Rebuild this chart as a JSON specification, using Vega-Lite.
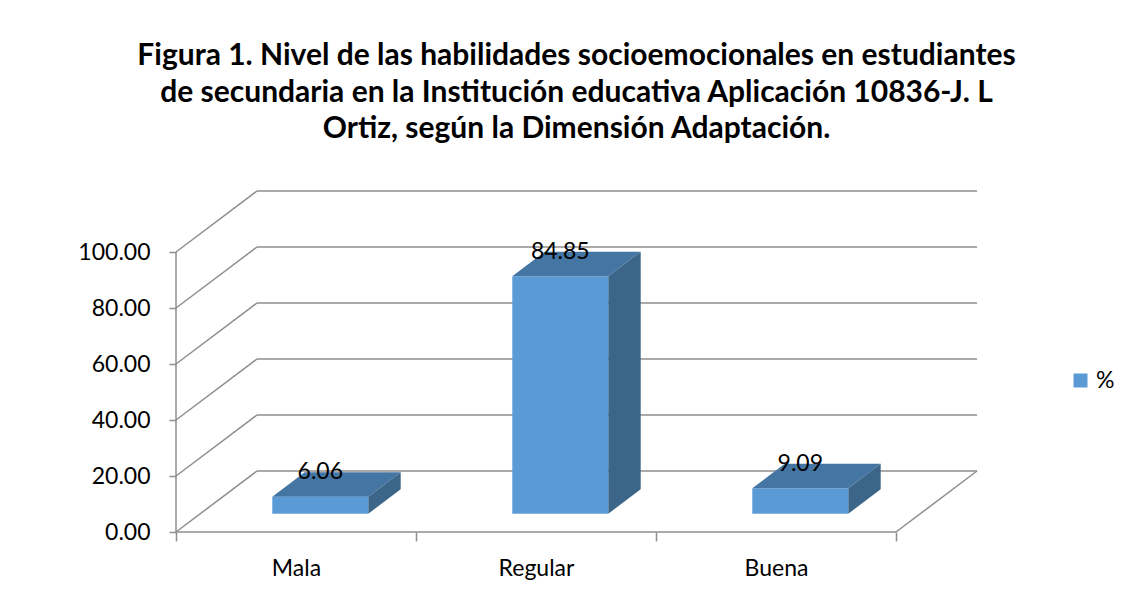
{
  "$schema": "https://vega.github.io/schema/vega-lite/v6.json",
  "width": 801,
  "height": 341,
  "autosize": {"type": "none"},
  "padding": {"left": 176, "top": 191, "right": 153, "bottom": 64},
  "background": "white",
  "config": {
    "view": {"stroke": null},
    "font": "Lato",
    "axis": {"labelFont": "Lato", "labelFontSize": 23, "labelColor": "#000000", "tickWidth": 1.5, "grid": false, "domain": false, "labelOverlap": false}
  },
  "title": {
    "text": ["Figura 1. Nivel de las habilidades socioemocionales en estudiantes", "de secundaria en la Institución educativa Aplicación 10836-J. L", "Ortiz, según la Dimensión Adaptación."],
    "font": "Lato", "fontSize": 30, "fontWeight": "bold", "color": "#000000", "anchor": "middle", "lineHeight": 36.5, "offset": 46
  },
  "datasets": {
    "bars": [{"cat": "Mala", "v": 6.06}, {"cat": "Regular", "v": 84.85}, {"cat": "Buena", "v": 9.09}],
    "ticks": [{"t": 0}, {"t": 20}, {"t": 40}, {"t": 60}, {"t": 80}, {"t": 100}]
  },
  "layer": [
    {
      "data": {"name": "ticks"},
      "transform": [{"calculate": "datum.t + 21.79", "as": "yb"}],
      "mark": {"type": "rule", "color": "#8E8E8E", "strokeWidth": 1.5},
      "encoding": {
        "x": {"datum": 0.3375, "type": "quantitative", "scale": {"domain": [0, 3.3375], "nice": false, "zero": false}},
        "x2": {"datum": 3.3375},
        "y": {"field": "yb", "type": "quantitative", "scale": {"domain": [0, 121.79], "nice": false}}
      }
    },
    {
      "data": {"name": "ticks"},
      "transform": [{"calculate": "datum.t + 21.79", "as": "yb"}],
      "mark": {"type": "rule", "color": "#8E8E8E", "strokeWidth": 1.5},
      "encoding": {
        "x": {"datum": 0, "type": "quantitative", "scale": {"domain": [0, 3.3375], "nice": false, "zero": false}},
        "x2": {"datum": 0.3375},
        "y": {"field": "t", "type": "quantitative", "scale": {"domain": [0, 121.79], "nice": false}},
        "y2": {"field": "yb"}
      }
    },
    {
      "data": {"values": [{}]},
      "mark": {"type": "rule", "color": "#8E8E8E", "strokeWidth": 1.5},
      "encoding": {
        "x": {"datum": 0, "type": "quantitative", "scale": {"domain": [0, 3.3375], "nice": false, "zero": false}},
        "y": {"datum": 0, "type": "quantitative", "scale": {"domain": [0, 121.79], "nice": false}},
        "y2": {"datum": 100}
      }
    },
    {
      "data": {"values": [{}]},
      "mark": {"type": "rule", "color": "#8E8E8E", "strokeWidth": 1.5},
      "encoding": {
        "x": {"datum": 0, "type": "quantitative", "scale": {"domain": [0, 3.3375], "nice": false, "zero": false}},
        "x2": {"datum": 3},
        "y": {"datum": 0, "type": "quantitative", "scale": {"domain": [0, 121.79], "nice": false}}
      }
    },
    {
      "data": {"values": [{}]},
      "mark": {"type": "rule", "color": "#8E8E8E", "strokeWidth": 1.5},
      "encoding": {
        "x": {"datum": 3, "type": "quantitative", "scale": {"domain": [0, 3.3375], "nice": false, "zero": false}},
        "x2": {"datum": 3.3375},
        "y": {"datum": 0, "type": "quantitative", "scale": {"domain": [0, 121.79], "nice": false}},
        "y2": {"datum": 21.79}
      }
    },
    {
      "data": {"name": "bars"},
      "transform": [
        {"window": [{"op": "row_number", "as": "rn"}]},
        {"calculate": "datum.rn - 1 + 0.40125", "as": "x1"},
        {"calculate": "datum.rn - 1 + 0.80125", "as": "x2"},
        {"calculate": "datum.v + 6.537", "as": "ytop"},
        {"calculate": "6.537", "as": "ybot"}
      ],
      "mark": {"type": "rect"},
      "encoding": {
        "x": {"field": "x1", "type": "quantitative", "scale": {"domain": [0, 3.3375], "nice": false, "zero": false},
          "axis": {"title": null, "values": [0, 0.5, 1, 1.5, 2, 2.5, 3], "labelExpr": "datum.value==0.5?'Mala':datum.value==1.5?'Regular':datum.value==2.5?'Buena':''", "tickColor": {"condition": {"test": "datum.value % 1 != 0", "value": "transparent"}, "value": "#8E8E8E"}, "tickSize": 9, "labelPadding": 16, "labelFlush": false, "grid": false, "domain": false}},
        "x2": {"field": "x2"},
        "y": {"field": "ytop", "type": "quantitative", "scale": {"domain": [0, 121.79], "nice": false},
          "axis": {"title": null, "values": [0, 20, 40, 60, 80, 100], "format": ".2f", "tickColor": "#8E8E8E", "tickSize": 7, "labelPadding": 19, "grid": false, "domain": false}},
        "y2": {"field": "ybot"},
        "color": {"datum": "%", "type": "nominal", "scale": {"range": ["#5B9BD5"]},
          "legend": {"orient": "none", "legendX": 893, "legendY": 178, "title": null, "symbolType": "square", "symbolSize": 196, "labelFont": "Lato", "labelFontSize": 23, "labelColor": "#000000", "padding": 0, "labelOffset": 4, "symbolStrokeWidth": 0}}
      }
    },
    {
      "data": {"name": "bars"},
      "transform": [
        {"window": [{"op": "row_number", "as": "rn"}]},
        {"calculate": "0.3", "as": "f"},
        {"calculate": "0.7", "as": "b"},
        {"fold": ["f", "b"], "as": ["k", "d"]},
        {"calculate": "datum.rn - 1 + 0.3 + datum.d * 0.3375", "as": "xt"},
        {"calculate": "datum.xt + 0.4", "as": "xt2"},
        {"calculate": "datum.v + datum.d * 21.79", "as": "yt"}
      ],
      "mark": {"type": "area", "orient": "horizontal", "color": "#4475A3"},
      "encoding": {
        "y": {"field": "yt", "type": "quantitative", "scale": {"domain": [0, 121.79], "nice": false}},
        "x": {"field": "xt", "type": "quantitative", "scale": {"domain": [0, 3.3375], "nice": false, "zero": false}},
        "x2": {"field": "xt2"},
        "detail": {"field": "cat"}
      }
    },
    {
      "data": {"name": "bars"},
      "transform": [
        {"window": [{"op": "row_number", "as": "rn"}]},
        {"calculate": "0.3", "as": "f"},
        {"calculate": "0.7", "as": "b"},
        {"fold": ["f", "b"], "as": ["k", "d"]},
        {"calculate": "datum.rn - 1 + 0.70125 + (datum.d - 0.3) * 0.3375 + 0.1", "as": "xs"},
        {"calculate": "datum.v + datum.d * 21.79", "as": "yt"},
        {"calculate": "datum.d * 21.79", "as": "yb"}
      ],
      "mark": {"type": "area", "orient": "vertical", "color": "#3B6689"},
      "encoding": {
        "x": {"field": "xs", "type": "quantitative", "scale": {"domain": [0, 3.3375], "nice": false, "zero": false}},
        "y": {"field": "yt", "type": "quantitative", "scale": {"domain": [0, 121.79], "nice": false}},
        "y2": {"field": "yb"},
        "detail": {"field": "cat"}
      }
    },
    {
      "data": {"name": "bars"},
      "transform": [
        {"window": [{"op": "row_number", "as": "rn"}]},
        {"calculate": "datum.rn - 1 + 0.60125", "as": "xl"},
        {"calculate": "datum.v + 15.25", "as": "yl"}
      ],
      "mark": {"type": "text", "font": "Lato", "fontSize": 23, "color": "#000000", "align": "center", "baseline": "middle"},
      "encoding": {
        "x": {"field": "xl", "type": "quantitative", "scale": {"domain": [0, 3.3375], "nice": false, "zero": false}},
        "y": {"field": "yl", "type": "quantitative", "scale": {"domain": [0, 121.79], "nice": false}},
        "text": {"field": "v", "type": "quantitative", "format": ".2f"}
      }
    }
  ]
}
